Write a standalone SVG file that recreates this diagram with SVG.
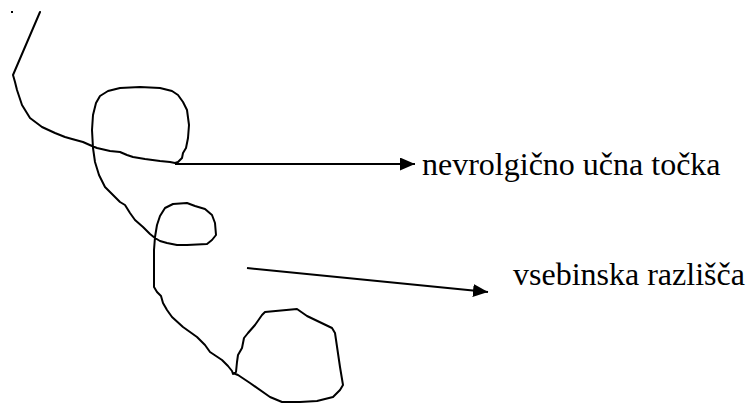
<svg xmlns="http://www.w3.org/2000/svg" width="746" height="403" viewBox="0 0 746 403">
<style>
.ink{fill:none;stroke:#000;stroke-width:2;stroke-linejoin:round;stroke-linecap:round}
.arr{fill:none;stroke:#000;stroke-width:2}
.lbl{font-family:"Liberation Serif","Times New Roman",serif;font-size:32px;fill:#000}
</style>
<defs>
<marker id="ah" markerUnits="userSpaceOnUse" markerWidth="16" markerHeight="14" refX="15" refY="6.5" orient="auto">
<path d="M0,0 L15,6.5 L0,13 Z" fill="#000"/>
</marker>
</defs>
<g id="curve">
<rect x="11" y="11" width="2" height="2" fill="#000"/>
<path class="ink" d="M40,12 L13,75 L15,82 L17,90 L22,105 L30,118 L42,127 L55,133 L65,137 L72,139 L83,142 L92,146 L97,148 L110,151 L120,152 L127,155 L133,157 L145,159 L160,161 L170,162 L175,163 L178,162 L182,158 L183,153 L186,148 L188,138 L189,125 L187,110 L183,102 L178,95 L172,91 L160,88 L140,87 L120,88 L108,91 L100,96 L96,103 L93,115 L92,130 L93,148 L95,162 L99,175 L105,187 L110,192 L115,197 L120,202 L125,205 L130,213 L135,220 L143,227 L150,234 L155,238 L160,241 L167,243 L177,245 L187,245 L197,244.5 L207,244 L212,240 L216,235 L215,223 L212,215 L205,209 L195,206 L187,203 L173,204 L165,208 L160,216 L157,225 L155,237 L154,250 L154,270 L154,287 L157,292 L161,296 L163,303 L167,310 L172,317 L183,327 L197,337 L205,345 L210,352 L216,356 L222,360 L228,366 L232,371 L233,374 L236,372 L237,362 L238,355 L242,348 L244,338 L248,333 L255,325 L262,315 L265,312 L297,309 L307,316 L332,328 L335,333 L340,367 L343,385 L340,390 L333,397 L317,401 L300,402 L282,402 L270,397 L250,383 L238,375 L233,373"/>
</g>
<g id="connectors">
<line class="arr" x1="175" y1="164" x2="415" y2="164" marker-end="url(#ah)"/>
<line class="arr" x1="247" y1="268" x2="488" y2="292" marker-end="url(#ah)"/>
</g>
<g id="label1"><text class="lbl" x="422" y="175">nevrolgično učna točka</text></g>
<g id="label2"><text class="lbl" x="513" y="285">vsebinska razlišča</text></g>
</svg>
